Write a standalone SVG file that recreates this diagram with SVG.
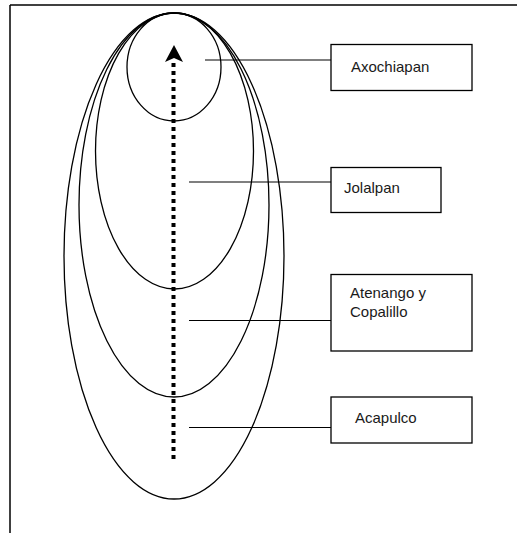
<svg xmlns="http://www.w3.org/2000/svg" width="517" height="533" viewBox="0 0 517 533">
<style>
.e{fill:none;stroke:#000;stroke-width:1.3}
.b{fill:#fff;stroke:#000;stroke-width:1.3}
.l{stroke:#000;stroke-width:1.2}
.t{font-family:"Liberation Sans",Arial,sans-serif;font-size:15px;fill:#1a1a1a}
</style>
<rect width="517" height="533" fill="#fff"/>
<g id="frame">
<line x1="10" y1="5" x2="517" y2="5" stroke="#000" stroke-width="1.5"/>
<line x1="10" y1="5" x2="10" y2="533" stroke="#000" stroke-width="1.5"/>
</g>
<g id="ellipses">
<ellipse id="e-acapulco" class="e" cx="174" cy="256" rx="110" ry="243"/>
<ellipse id="e-atenango" class="e" cx="174" cy="205" rx="95" ry="192"/>
<ellipse id="e-jolalpan" class="e" cx="174.5" cy="151" rx="79" ry="138"/>
<ellipse id="e-axochiapan" class="e" cx="174" cy="67" rx="47" ry="54"/>
</g>
<g id="arrow">
<line x1="173.5" y1="459" x2="173.5" y2="60" stroke="#000" stroke-width="4" stroke-dasharray="4 4"/>
<polygon points="174,45 183,62 174,58 165,62" fill="#000"/>
</g>
<g id="connectors">
<line class="l" x1="205" y1="60" x2="331" y2="60"/>
<line class="l" x1="189" y1="182" x2="331" y2="182"/>
<line class="l" x1="189" y1="320.5" x2="331" y2="320.5"/>
<line class="l" x1="189" y1="427.5" x2="331" y2="427.5"/>
</g>
<g id="n-axochiapan">
<rect class="b" x="331" y="44.5" width="141" height="46"/>
<text class="t" x="351" y="72">Axochiapan</text>
</g>
<g id="n-jolalpan">
<rect class="b" x="331" y="167.5" width="110" height="45"/>
<text class="t" x="344" y="193">Jolalpan</text>
</g>
<g id="n-atenango">
<rect class="b" x="331" y="274.5" width="141" height="76.5"/>
<text class="t" x="350" y="298">Atenango y</text>
<text class="t" x="350" y="317">Copalillo</text>
</g>
<g id="n-acapulco">
<rect class="b" x="331" y="397" width="141" height="46"/>
<text class="t" x="355" y="423">Acapulco</text>
</g>
</svg>
